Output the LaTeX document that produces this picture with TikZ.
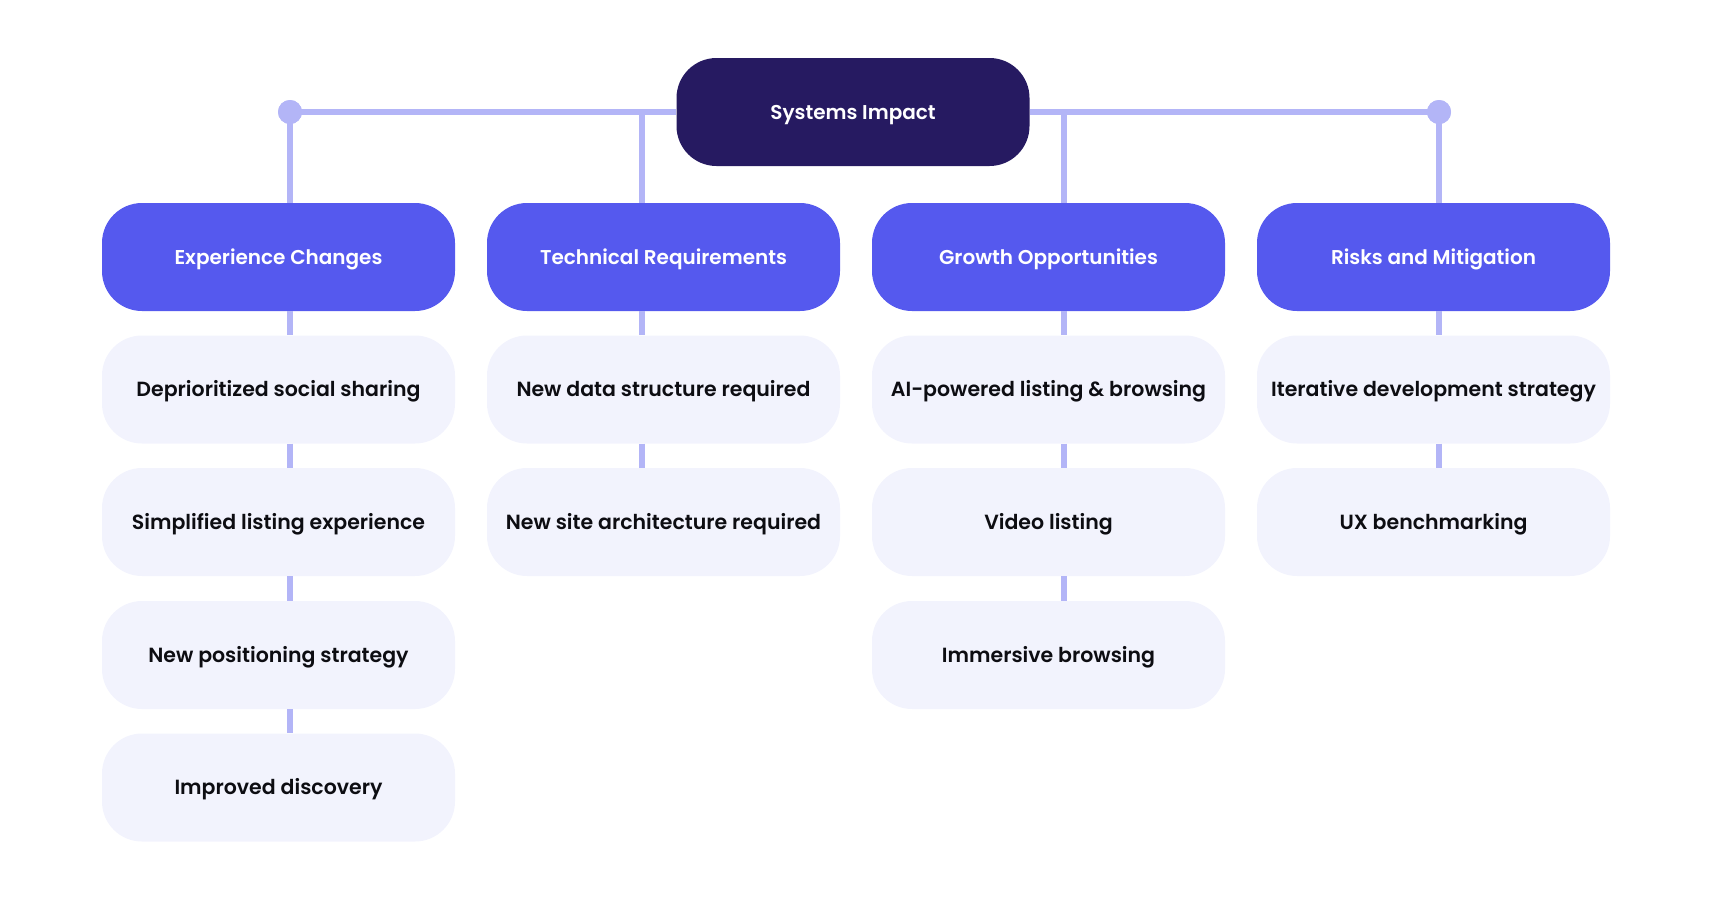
\documentclass[tikz,border=0pt]{standalone}
\usepackage{fontspec}
\setmainfont{Poppins}
\IfFontExistsTF{Poppins SemiBold}{\newfontfamily\fsemi{Poppins SemiBold}}{\newfontfamily\fsemi{Poppins}[FakeBold=1.5]}
\definecolor{rootc}{HTML}{261A61}
\definecolor{catc}{HTML}{5559EE}
\definecolor{leafc}{HTML}{F2F3FD}
\definecolor{linec}{HTML}{B3B5F7}
\definecolor{txtc}{HTML}{0D0D12}
\tikzset{
  box/.style={rectangle, rounded corners=40pt, minimum width=353pt, minimum height=108pt, inner sep=0pt, align=center, text height=17pt, text depth=3pt},
  rootbox/.style={box, fill=rootc, text=white, font=\fsemi\fontsize{20}{24}\selectfont},
  catbox/.style={box, fill=catc, text=white, font=\fsemi\fontsize{20}{24}\selectfont},
  leafbox/.style={box, fill=leafc, text=txtc, font=\fsemi\fontsize{20.5}{24}\selectfont},
  conn/.style={draw=linec, line width=6pt},
  dotnode/.style={circle, fill=linec, minimum size=24pt, inner sep=0pt}
}
\begin{document}
\begin{tikzpicture}[x=1pt,y=-1pt]
\useasboundingbox (0,0) rectangle (1712,900);
% line anchors
\node[dotnode] (dl) at (290,112) {};
\node[dotnode] (dr) at (1439,112) {};
\coordinate (l1) at (290,112);
\coordinate (l2) at (642,112);
\coordinate (l3) at (1064,112);
\coordinate (l4) at (1439,112);
% nodes
\node[rootbox] (root) at (853,112) {Systems Impact};
\node[catbox] (c1) at (278.5,257) {Experience Changes};
\node[catbox] (c2) at (663.5,257) {Technical Requirements};
\node[catbox] (c3) at (1048.5,257) {Growth Opportunities};
\node[catbox] (c4) at (1433.5,257) {Risks and Mitigation};
\node[leafbox] (a1) at (278.5,389.5) {Deprioritized social sharing};
\node[leafbox] (a2) at (278.5,522) {Simplified listing experience};
\node[leafbox] (a3) at (278.5,655) {New positioning strategy};
\node[leafbox] (a4) at (278.5,787.5) {Improved discovery};
\node[leafbox] (b1) at (663.5,389.5) {New data structure required};
\node[leafbox] (b2) at (663.5,522) {New site architecture required};
\node[leafbox] (g1) at (1048.5,389.5) {AI-powered listing \& browsing};
\node[leafbox] (g2) at (1048.5,522) {Video listing};
\node[leafbox] (g3) at (1048.5,655) {Immersive browsing};
\node[leafbox] (r1) at (1433.5,389.5) {Iterative development strategy};
\node[leafbox] (r2) at (1433.5,522) {UX benchmarking};
% connectors
\draw[conn] (dl.center) -- (root.west);
\draw[conn] (root.east) -- (dr.center);
\draw[conn] (l1) -- (l1 |- c1.north);
\draw[conn] (l2) -- (l2 |- c2.north);
\draw[conn] (l3) -- (l3 |- c3.north);
\draw[conn] (l4) -- (l4 |- c4.north);
\draw[conn] (c1.south -| l1) -- (a1.north -| l1);
\draw[conn] (a1.south -| l1) -- (a2.north -| l1);
\draw[conn] (a2.south -| l1) -- (a3.north -| l1);
\draw[conn] (a3.south -| l1) -- (a4.north -| l1);
\draw[conn] (c2.south -| l2) -- (b1.north -| l2);
\draw[conn] (b1.south -| l2) -- (b2.north -| l2);
\draw[conn] (c3.south -| l3) -- (g1.north -| l3);
\draw[conn] (g1.south -| l3) -- (g2.north -| l3);
\draw[conn] (g2.south -| l3) -- (g3.north -| l3);
\draw[conn] (c4.south -| l4) -- (r1.north -| l4);
\draw[conn] (r1.south -| l4) -- (r2.north -| l4);
\node[dotnode] at (dl.center) {};
\node[dotnode] at (dr.center) {};
\end{tikzpicture}
\end{document}
